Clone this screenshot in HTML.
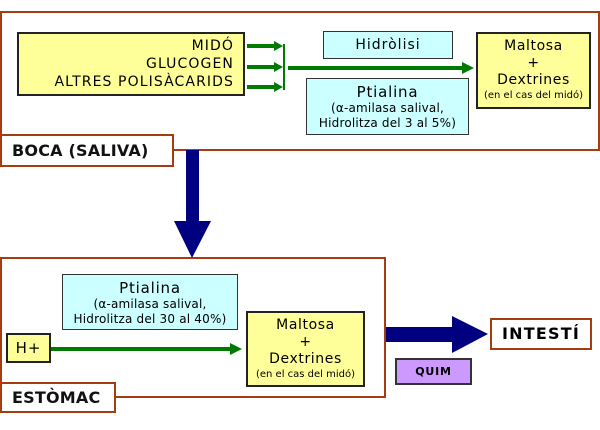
<!DOCTYPE html>
<html><head><meta charset="utf-8"><style>
body{margin:0;width:600px;height:430px;background:#fff;position:relative;overflow:hidden;font-family:"DejaVu Sans","Liberation Sans",sans-serif;}
.b{position:absolute;box-sizing:border-box;}
.red{border:2px solid #a63c12;background:#fff;}
.y{background:#ffff99;border:2px solid #222;}
.c{background:#ccffff;border:1px solid #333;text-align:center;}
.lbl{font-weight:bold;font-size:16px;letter-spacing:0.2px;color:#111;display:flex;align-items:center;padding-left:10px;}
.t{font-size:15px;line-height:18px;letter-spacing:0.8px;}
.s{font-size:12px;line-height:15px;letter-spacing:0.2px;}
.m{font-size:14px;line-height:17px;letter-spacing:0.6px;}
.sm{font-size:10px;line-height:14px;}
</style></head><body>
<div class="b red" style="left:0;top:11px;width:600px;height:140px;"></div>
<div class="b red" style="left:0;top:257px;width:386px;height:141px;"></div>
<svg class="b" style="left:0;top:0" width="600" height="430">
<g fill="#007a00" stroke="#007a00">
<line x1="247" y1="46" x2="276" y2="46" stroke-width="4"/><polygon points="274,41 283,46 274,51" stroke="none"/>
<line x1="247" y1="67" x2="276" y2="67" stroke-width="4"/><polygon points="274,62 283,67 274,72" stroke="none"/>
<line x1="247" y1="87" x2="276" y2="87" stroke-width="4"/><polygon points="274,82 283,87 274,92" stroke="none"/>
<line x1="284" y1="44" x2="284" y2="90" stroke-width="2"/>
<line x1="288" y1="68" x2="464" y2="68" stroke-width="4"/><polygon points="462,62 474,68 462,74" stroke="none"/>
<line x1="50" y1="349" x2="232" y2="349" stroke-width="4"/><polygon points="230,343 242,349 230,355" stroke="none"/>
</g>
<g fill="#000080">
<rect x="186" y="150" width="13" height="72"/><polygon points="174,221 211,221 192,258"/>
<rect x="386" y="327" width="68" height="15"/><polygon points="452,316 452,353 488,334"/>
</g>
</svg>
<div class="b lbl red" style="left:0;top:134px;width:174px;height:33px;">BOCA (SALIVA)</div>
<div class="b lbl red" style="left:0;top:382px;width:116px;height:31px;">ESTÒMAC</div>
<div class="b y" style="left:17px;top:32px;width:228px;height:64px;text-align:right;padding-right:9px;font-size:14px;letter-spacing:1.1px;line-height:18px;padding-top:3px;">MIDÓ<br>GLUCOGEN<br>ALTRES POLISÀCARIDS</div>
<div class="b c" style="left:323px;top:31px;width:130px;height:28px;font-size:14px;letter-spacing:1px;line-height:26px;">Hidròlisi</div>
<div class="b c" style="left:306px;top:78px;width:163px;height:57px;padding-top:4px;"><div class="t">Ptialina</div><div class="s">(α-amilasa salival,</div><div class="s">Hidrolitza del 3 al 5%)</div></div>
<div class="b y" style="left:476px;top:32px;width:115px;height:77px;text-align:center;padding-top:4px;"><div class="m">Maltosa</div><div class="m">+</div><div class="m">Dextrines</div><div class="sm">(en el cas del midó)</div></div>
<div class="b c" style="left:62px;top:274px;width:176px;height:56px;padding-top:4px;"><div class="t">Ptialina</div><div class="s">(α-amilasa salival,</div><div class="s">Hidrolitza del 30 al 40%)</div></div>
<div class="b y" style="left:6px;top:333px;width:45px;height:30px;font-size:15px;letter-spacing:1px;text-align:center;line-height:26px;">H+</div>
<div class="b y" style="left:246px;top:311px;width:119px;height:76px;text-align:center;padding-top:4px;"><div class="m">Maltosa</div><div class="m">+</div><div class="m">Dextrines</div><div class="sm">(en el cas del midó)</div></div>
<div class="b red" style="left:490px;top:318px;width:102px;height:32px;font-weight:bold;font-size:16px;text-align:center;line-height:28px;letter-spacing:1.2px;">INTESTÍ</div>
<div class="b" style="left:395px;top:358px;width:77px;height:27px;background:#cc99ff;border:2px solid #333;font-weight:bold;font-size:11px;letter-spacing:0.8px;text-align:center;line-height:23px;">QUIM</div>
</body></html>
